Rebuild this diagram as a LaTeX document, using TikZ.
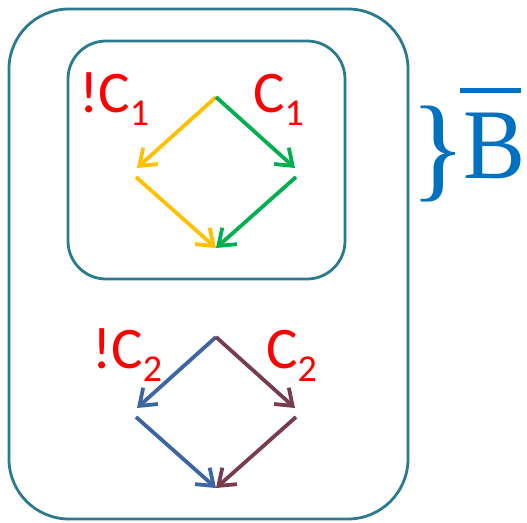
\documentclass[tikz,border=0pt]{standalone}
\usepackage{fontspec}
\setmainfont{Carlito}
\newfontfamily\serifB{Liberation Serif}
\usetikzlibrary{arrows.meta}
\definecolor{frame}{HTML}{2B7A8E}
\definecolor{cyel}{HTML}{FFC000}
\definecolor{cgrn}{HTML}{00B050}
\definecolor{cblu}{HTML}{3D65A2}
\definecolor{cmar}{HTML}{773D4F}
\definecolor{cred}{HTML}{FF0000}
\definecolor{bblue}{HTML}{0070C0}
\tikzset{
  box/.style={draw=frame, line width=2.8pt},
  arr/.style={line width=3.8pt, -{Straight Barb[length=15pt,width=22pt]}},
  lbl/.style={text=cred, inner sep=0pt, anchor=base west},
}
\newcommand{\lab}[2]{{\fontsize{59}{59}\selectfont #1}\raisebox{-13pt}{\fontsize{38}{38}\selectfont #2}}
\begin{document}
\begin{tikzpicture}[x=1pt,y=-1pt]
\useasboundingbox (0,0) rectangle (527,522);
\draw[box, rounded corners=60pt] (9,9) rectangle (408,519);
\draw[box, rounded corners=38pt] (68,41) rectangle (345,279);
% top diamond
\coordinate (t1) at (216,97);
\coordinate (l1) at (137,168);
\coordinate (r1) at (295,168);
\coordinate (ls1) at (136,177);
\coordinate (rs1) at (296,177);
\coordinate (b1) at (216,248);
\draw[arr, cyel] (t1) -- (l1);
\draw[arr, cyel] (ls1) -- (b1);
\draw[arr, cgrn] (t1) -- (r1);
\draw[arr, cgrn] (rs1) -- (b1);
% bottom diamond
\coordinate (t2) at (216,337);
\coordinate (l2) at (137,408);
\coordinate (r2) at (295,408);
\coordinate (ls2) at (136,417);
\coordinate (rs2) at (296,417);
\coordinate (b2) at (216,488);
\draw[arr, cblu] (t2) -- (l2);
\draw[arr, cblu] (ls2) -- (b2);
\draw[arr, cmar] (t2) -- (r2);
\draw[arr, cmar] (rs2) -- (b2);
% labels
\node[lbl] (nc1) at (79,112) {\lab{!C}{1}};
\node[lbl] (c1) at (253,112) {\lab{C}{1}};
\node[lbl] (nc2) at (92,368) {\lab{!C}{2}};
\node[lbl] (c2) at (266,368) {\lab{C}{2}};
% brace and B bar
\node[inner sep=0pt, anchor=base west, text=bblue] (br) at (410,186) {\serifB\fontsize{116}{116}\selectfont \}};
\node[inner sep=0pt, anchor=base west, text=bblue] (bb) at (463,178) {\serifB\fontsize{100}{100}\selectfont\scalebox{0.93}[1]{B}};
\draw[bblue, line width=5pt] (460,90) -- (521,90);
\end{tikzpicture}
\end{document}
